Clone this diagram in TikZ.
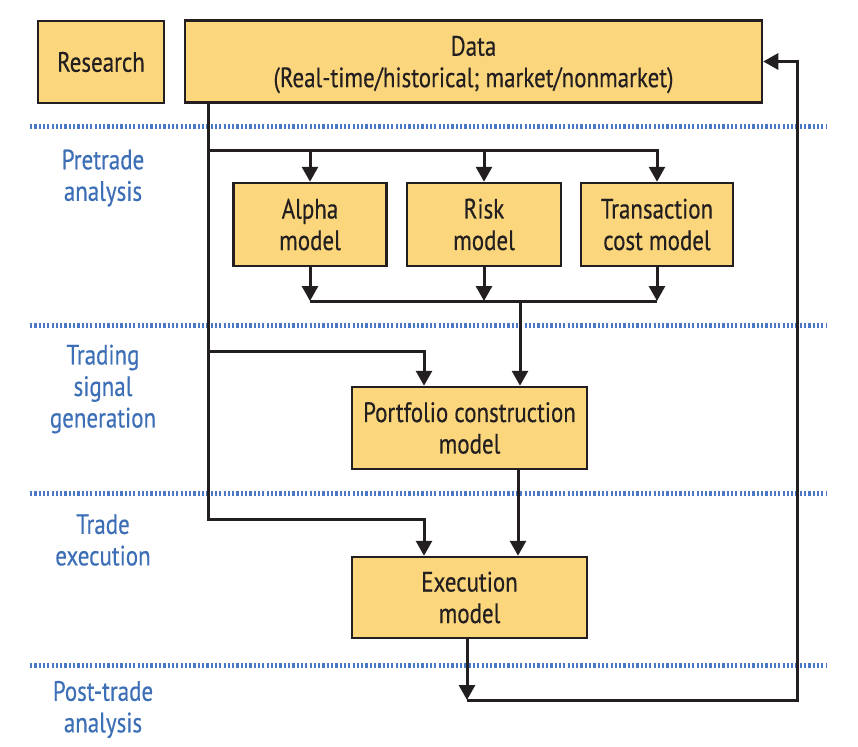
\documentclass[tikz,border=0pt]{standalone}
\usepackage{fontspec}
\setmainfont[FakeStretch=0.82,FakeBold=0.4]{PT Sans}
\usetikzlibrary{arrows.meta,calc}
\definecolor{boxfill}{HTML}{FBD67C}
\definecolor{ink}{HTML}{231F20}
\definecolor{sepblue}{HTML}{4A78C4}
\definecolor{lblblue}{HTML}{3D6FB6}
\begin{document}
\begin{tikzpicture}[x=1pt,y=-1pt,
  box/.style={draw=ink,line width=2.5pt,fill=boxfill,inner sep=0pt,align=center,
    font=\fontsize{28}{31.5}\selectfont,text=ink},
  conn/.style={draw=ink,line width=3pt},
  arr/.style={conn,-{Triangle[length=15pt,width=16pt]}},
  sep/.style={draw=sepblue,line width=5pt,dash pattern=on 2.2pt off 2.1pt},
  lbl/.style={align=center,text=lblblue,font=\fontsize{28}{31.5}\selectfont,inner sep=0pt}]
\useasboundingbox (0,0) rectangle (858,746);
% separators
\draw[sep] (30,127) -- (826,127);
\draw[sep] (30,325) -- (826,325);
\draw[sep] (30,493) -- (826,493);
\draw[sep] (30,665) -- (826,665);
% boxes
\node[box,minimum width=126pt,minimum height=82pt] (research) at (101,62) {Research};
\node[box,minimum width=577pt,minimum height=82pt] (data) at (473.5,61.5) {Data\\\raisebox{0pt}[\height][0pt]{(Real-time/historical; market/nonmarket)}};
\node[box,minimum width=153pt,minimum height=83pt] (alpha) at (310,224.5) {Alpha\\model};
\node[box,minimum width=154pt,minimum height=83pt] (risk) at (484,224.5) {Risk\\model};
\node[box,minimum width=152pt,minimum height=83pt] (trans) at (657,224.5) {Transaction\\cost model};
\node[box,minimum width=235pt,minimum height=82pt] (port) at (469.5,428) {Portfolio construction\\model};
\node[box,minimum width=235pt,minimum height=81pt] (exec) at (469.5,597.5) {Execution\\model};
% labels
\node[lbl] (l1) at (103,178) {Pretrade\\analysis};
\node[lbl] (l2) at (103,389) {Trading\\signal\\generation};
\node[lbl] (l3) at (103,540) {Trade\\execution};
\node[lbl] (l4) at (103,709.5) {Post-trade\\analysis};
% coordinates
\coordinate (topbr) at (208,151);
\coordinate (pfbr) at (208,351);
\coordinate (exbr) at (208,519);
\coordinate (botbr) at (520,301);
\coordinate (xL) at (424,0);
\coordinate (xR) at (518,0);
\coordinate (fbl) at (467,700);
\coordinate (fbr) at (797,700);
% connectors
\draw[arr] (data.south -| exbr) -- (exbr) -| (exec.north -| xL);
\draw[arr] (pfbr) -| (port.north -| xL);
\draw[arr] (topbr) -| (alpha.north);
\draw[arr] (topbr) -| (risk.north);
\draw[arr] (topbr) -| (trans.north);
\draw[arr] (alpha.south) -- (alpha.south |- botbr);
\draw[arr] (risk.south) -- (risk.south |- botbr);
\draw[arr] (trans.south) -- (trans.south |- botbr);
\draw[conn] (alpha.south |- botbr) -- (trans.south |- botbr);
\draw[arr] (botbr) -- (port.north -| botbr);
\draw[arr] (port.south -| xR) -- (exec.north -| xR);
\draw[arr] (exec.south -| fbl) -- (fbl);
\draw[arr] (fbl) -- (fbr) |- (data.east);
\end{tikzpicture}
\end{document}
